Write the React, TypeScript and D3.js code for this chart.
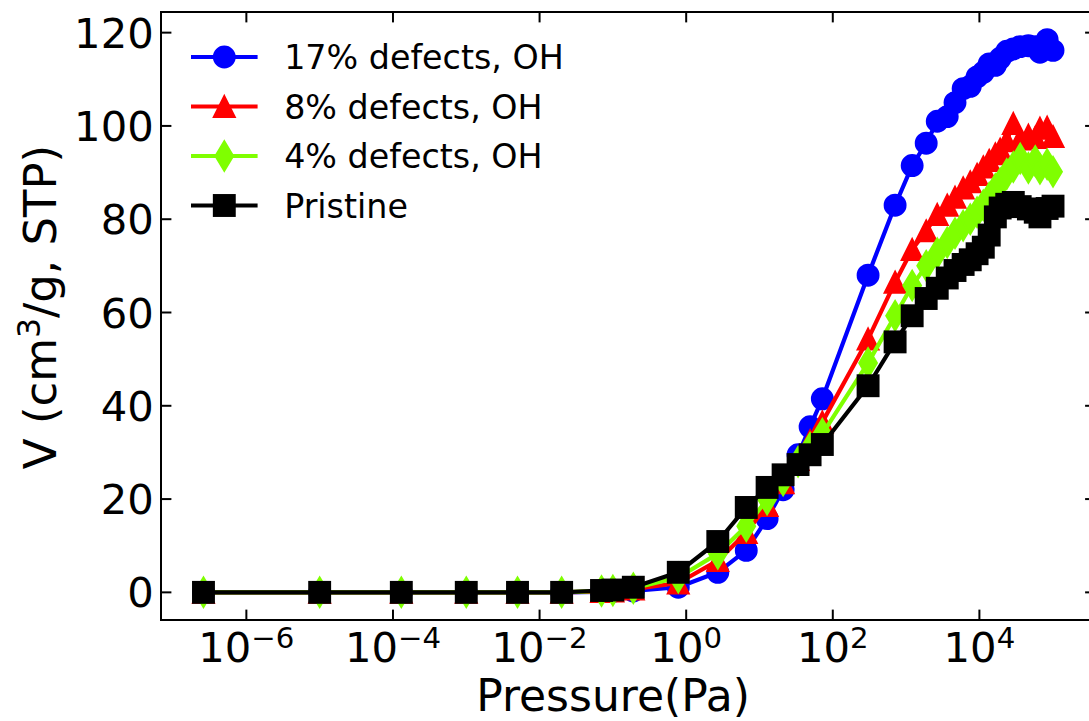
import React from 'react'
import * as d3 from 'd3'

// pressure grid (Pa), shared by all four isotherms
const pressure = [2.6e-7, 1e-5, 1.3e-4, 1e-3, 5e-3, 0.02, 0.07, 0.1, 0.19, 0.78, 2.7, 6.6, 12.7, 21, 33.6, 49, 72,
  303, 708, 1210, 1880, 2660, 3640, 4650, 6000, 7500, 9300, 11300, 13600, 16500, 19200, 23600, 29000, 36000,
  46600, 57800, 67000, 84000, 101000]

const v17 = [0, 0, 0, 0, 0, 0, 0.1, 0.2, 0.3, 1.1, 4.3, 9, 15.8, 22, 29.5, 35.5, 41.5,
  68, 83, 91.5, 96.3, 101, 102, 105, 108, 108.5, 110.5, 111.5, 113.3, 113, 114.5, 116, 116.5, 117,
  117.2, 117, 115.8, 118.5, 116.2]
const v8 = [0, 0, 0, 0, 0, 0, 0.2, 0.3, 0.7, 2, 6.8, 12.8, 18.6, 23.5, 28.5, 32.5, 36.5,
  54.3, 66.5, 73.5, 77.5, 81, 83, 84.7, 86.7, 88, 89.6, 91.2, 92.6, 94, 95, 96.8, 100.5, 97.2,
  98, 97.5, 99.5, 99.7, 97.7]
const v4 = [0, 0, 0, 0, 0, 0, 0.3, 0.4, 0.9, 3.2, 8.3, 14.2, 19.9, 24, 28, 31, 34,
  49.2, 59.3, 65.8, 70, 72.7, 75, 77, 78.6, 80, 81.5, 83, 84.6, 86.5, 87.7, 89.7, 91.2, 93,
  91, 92.5, 90.8, 91.8, 90.2]
const pristine = [0, 0, 0, 0, 0, 0, 0.4, 0.5, 1.1, 4.3, 10.9, 18.2, 22.5, 25.2, 27.4, 29.5, 31.7,
  44.3, 53.7, 59.3, 63, 65.2, 67.4, 69, 70.3, 71.3, 72.6, 74, 76.6, 80.5, 82.4, 83.2, 83.6, 82.7,
  82.2, 81.5, 80.5, 82.3, 82.8]

const seriesNames = ['17% defects, OH', '8% defects, OH', '4% defects, OH', 'Pristine']
const seriesColors = ['#0000ff', '#ff0000', '#7fff00', '#000000']
const seriesMarkers = ['circle', 'triangle', 'diamond', 'square']
const seriesValues = [v17, v8, v4, pristine]

const yTicks = [0, 20, 40, 60, 80, 100, 120]
const xTickExponents = [-6, -4, -2, 0, 2, 4]

const W = 1089, H = 721
const FONT = "'DejaVu Sans', sans-serif"
const m = { left: 161, top: 12, bottom: 620, right: 1095.5 }

function Marker({ kind, x, y, color }: { kind: string, x: number, y: number, color: string }) {
  const s = 10.4
  const common = { fill: color, stroke: color, strokeWidth: 2.1, strokeLinejoin: 'miter' as const }
  if (kind === 'circle') return <circle cx={x} cy={y} r={s} {...common} />
  if (kind === 'square') return <rect x={x - s} y={y - s} width={2 * s} height={2 * s} {...common} />
  if (kind === 'triangle') return <path d={`M${x},${y - s}L${x + s},${y + s}L${x - s},${y + s}Z`} {...common} />
  const hh = s * Math.SQRT2, hw = hh * 0.6
  return <path d={`M${x},${y - hh}L${x + hw},${y}L${x},${y + hh}L${x - hw},${y}Z`} {...common} />
}

export default function App() {
  // matplotlib-style 5% margins, in log space for x
  const lmin = Math.log10(d3.min(pressure)!), lmax = Math.log10(d3.max(pressure)!)
  const lpad = (lmax - lmin) * 0.05
  const x = d3.scaleLog().domain([10 ** (lmin - lpad), 10 ** (lmax + lpad)]).range([m.left, m.right])

  const vmax = d3.max(seriesValues.flat())!
  const ypad = vmax * 0.05
  const y = d3.scaleLinear().domain([-ypad, vmax + ypad]).range([m.bottom, m.top])

  const line = d3.line<number>().x((_, i) => x(pressure[i])).y(d => y(d))

  const tickLen = 10.4
  const legendRows = [57, 106.5, 156, 205.5]

  return (
    <div>
      <style>{'body{margin:0}'}</style>
      <svg width={W} height={H} style={{ display: 'block', background: '#fff' }} fontFamily={FONT}>
        {/* series: line then markers, in plotting order */}
        {seriesValues.map((vals, si) => (
          <g key={si}>
            <path d={line(vals)!} fill="none" stroke={seriesColors[si]} strokeWidth={4.2} strokeLinejoin="round" />
            {vals.map((v, i) => (
              <Marker key={i} kind={seriesMarkers[si]} x={x(pressure[i])} y={y(v)} color={seriesColors[si]} />
            ))}
          </g>
        ))}

        {/* spines */}
        <rect x={m.left} y={m.top} width={m.right - m.left} height={m.bottom - m.top} fill="none" stroke="#000" strokeWidth={2} />

        {/* x ticks, inward on bottom and top */}
        {xTickExponents.map(e => {
          const px = x(10 ** e)
          return (
            <g key={e}>
              <line x1={px} x2={px} y1={m.bottom} y2={m.bottom - tickLen} stroke="#000" strokeWidth={2} />
              <line x1={px} x2={px} y1={m.top} y2={m.top + tickLen} stroke="#000" strokeWidth={2} />
              <text x={px} y={662} textAnchor="middle" fontSize={41.7} fill="#000">
                10<tspan fontSize={29.2} dy={-14}>{e < 0 ? '\u2212' + Math.abs(e) : String(e)}</tspan>
              </text>
            </g>
          )
        })}

        {/* y ticks, inward on left and right */}
        {yTicks.map(t => {
          const py = y(t)
          return (
            <g key={t}>
              <line x1={m.left} x2={m.left + tickLen} y1={py} y2={py} stroke="#000" strokeWidth={2} />
              <line x1={m.right} x2={m.right - tickLen} y1={py} y2={py} stroke="#000" strokeWidth={2} />
              <text x={153.7} y={py} dy="0.36em" textAnchor="end" fontSize={41.7} fill="#000">{t}</text>
            </g>
          )
        })}

        {/* axis labels */}
        <text x={613} y={711} textAnchor="middle" fontSize={44} fill="#000">Pressure(Pa)</text>
        <text transform={`translate(56,307) rotate(-90)`} textAnchor="middle" fontSize={45} fill="#000">
          V (cm<tspan fontSize={31.5} dy={-16}>3</tspan><tspan dy={16}>/g, STP)</tspan>
        </text>

        {/* legend */}
        {seriesNames.map((name, i) => (
          <g key={name}>
            <line x1={191} x2={257.6} y1={legendRows[i]} y2={legendRows[i]} stroke={seriesColors[i]} strokeWidth={4.2} />
            <Marker kind={seriesMarkers[i]} x={224.3} y={legendRows[i]} color={seriesColors[i]} />
            <text x={284.2} y={legendRows[i] + 12} fontSize={33.3} fill="#000">{name}</text>
          </g>
        ))}
      </svg>
    </div>
  )
}
